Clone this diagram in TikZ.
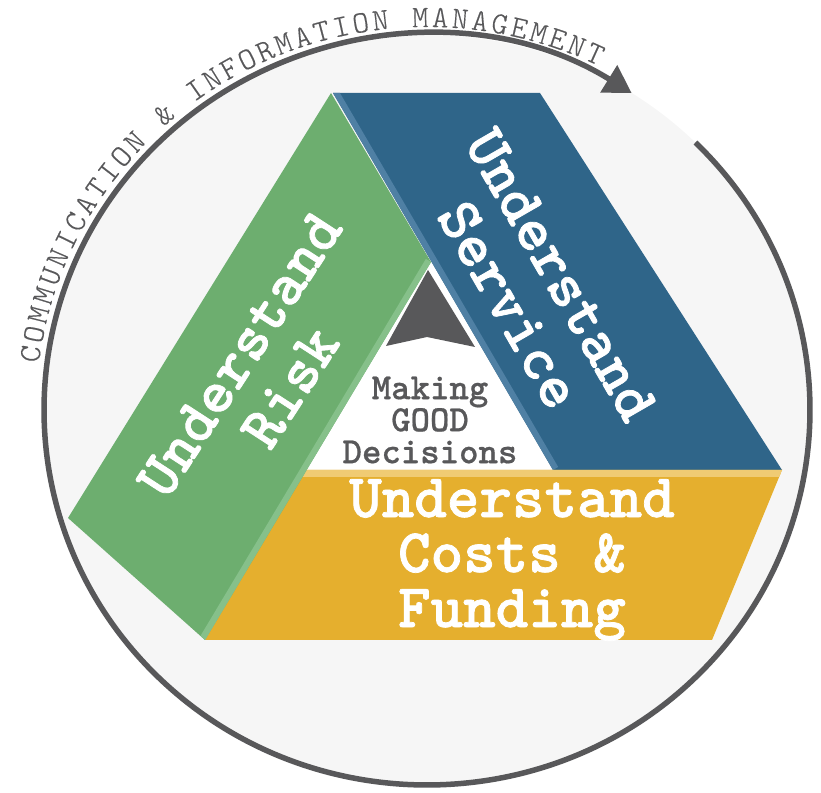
\documentclass[tikz,border=0pt]{standalone}
\usepackage{fontspec}
\usetikzlibrary{arrows.meta,decorations.text}
\newfontfamily\slabfont{lmmonolt10-bold.otf}[FakeBold=1.2]
\newfontfamily\corefont{lmmonolt10-bold.otf}[FakeBold=0.5]
\newfontfamily\ringfont{lmmonolt10-regular.otf}[FakeBold=0.4]
\definecolor{riskgreen}{HTML}{6DAE6F}
\definecolor{riskedge}{HTML}{86C08A}
\definecolor{serviceblue}{HTML}{2F6589}
\definecolor{serviceedge}{HTML}{4F80A4}
\definecolor{costyellow}{HTML}{E5AF2E}
\definecolor{costedge}{HTML}{F0CB73}
\definecolor{ringgrey}{HTML}{58585A}
\definecolor{haze}{HTML}{F6F6F6}
\begin{document}
\begin{tikzpicture}[x=1pt,y=1pt,
	band/.style={text=white,align=center,font=\slabfont\fontsize{62}{60}\selectfont},
	rim/.style={line width=12pt}]
	\useasboundingbox (0,0) rectangle (821,792);
	% ring with its arrow and caption
	\fill[haze] (427,382) ellipse [x radius=383,y radius=375];
	\draw[ringgrey,line width=5.5pt,-{Triangle[length=27pt,width=31pt]}]
		([shift={(427,382)}]45.5:383 and 375) arc [start angle=45.5,end angle=-302.3,x radius=383,y radius=375];
	\path[decorate,decoration={text along path,text align=fit to path,
		text={|\ringfont\fontsize{31}{31}\selectfont\color{ringgrey}|COMMUNICATION {\&} INFORMATION MANAGEMENT}}]
		([shift={(427,382)}]173:391 and 383) arc [start angle=173,end angle=64,x radius=391,y radius=383];
	% corners of the three bands
	\coordinate (top) at (331,699);
	\coordinate (apex) at (431,530);
	\coordinate (left) at (68,274);
	\coordinate (foot) at (205,152);
	\fill[white] (apex) -- (300,322) -- (562,322) -- cycle;
	% service
	\fill[serviceblue] (333,699) -- (540,699) -- (782,322) -- (553,322) -- cycle;
	\begin{scope}
		\clip (333,699) -- (540,699) -- (782,322) -- (553,322) -- cycle;
		\draw[serviceedge,rim] (333,699) -- (553,322);
	\end{scope}
	% costs
	\fill[costyellow] (306,322) -- (782,322) -- (712,152) -- (foot) -- cycle;
	\begin{scope}
		\clip (306,322) -- (782,322) -- (712,152) -- (foot) -- cycle;
		\draw[costedge,line width=14pt] (300,322) -- (790,322);
	\end{scope}
	% risk
	\fill[riskgreen] (top) -- (left) -- (foot) -- (apex) -- cycle;
	\begin{scope}
		\clip (top) -- (left) -- (foot) -- (apex) -- cycle;
		\draw[riskedge,rim] (apex) -- (foot);
	\end{scope}
	% arrow in the middle
	\fill[ringgrey] (428,522) -- (386,446) -- (427,455) -- (475,445) -- cycle;
	\node[band,rotate=57] (risk) at (265,421) {Understand\\Risk};
	\node[band,rotate=-60] (service) at (535,502) {Understand\\Service};
	\node[band,font=\slabfont\fontsize{62}{55}\selectfont] (costs) at (512,232) {Understand\\Costs \&\\Funding};
	\node[text=ringgrey,align=center,font=\corefont\fontsize{37}{32}\selectfont] (core) at (430,372) {Making\\GOOD\\Decisions};
\end{tikzpicture}
\end{document}
